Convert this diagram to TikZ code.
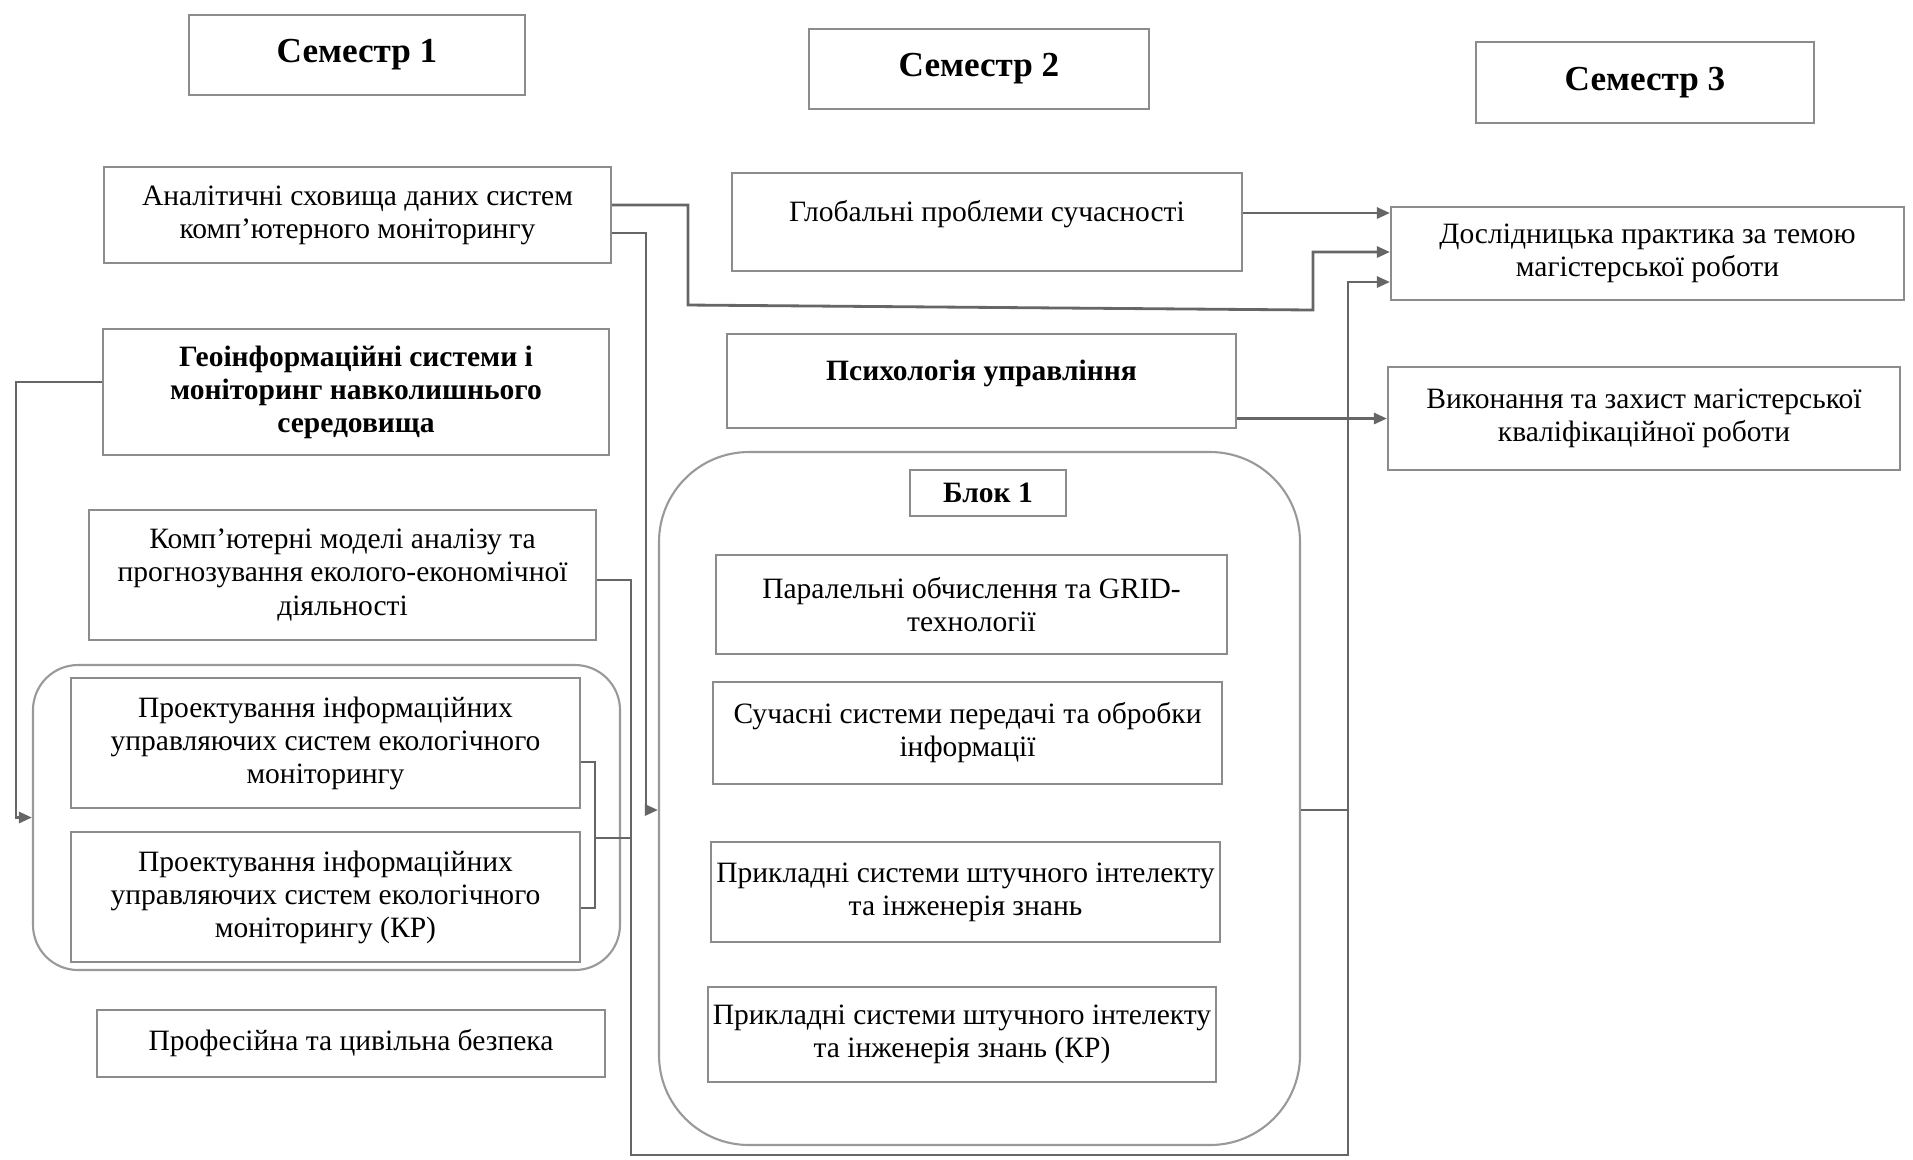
\documentclass[tikz,border=0pt]{standalone}
\usepackage{fontspec}
\setmainfont{Liberation Serif}
\usetikzlibrary{calc,arrows.meta}
\tikzset{
	box/.style={draw=black!45, line width=0.6pt, align=center, inner sep=0pt, font=\fontsize{8.4}{9.4}\selectfont},
	sem/.style={box, font=\fontsize{10}{11}\selectfont\bfseries},
	grp/.style={draw=black!40, line width=0.6pt, rounded corners=#1},
	link/.style={draw=black!60, line width=0.8pt},
	arr/.style={link, -{Triangle[length=1.3mm,width=1.1mm]}},
}

\begin{document}
\begin{tikzpicture}
			%%%%% START %%%%%
			\useasboundingbox (0,0) rectangle (19.13,-11.59);
			
			\node[sem, minimum width=3.36cm, minimum height=0.8cm] (sem1) at (3.57,-0.55) {Семестр 1};
			\node[sem, minimum width=3.4cm, minimum height=0.8cm] (sem2) at (9.79,-0.69) {Семестр 2};
			\node[sem, minimum width=3.38cm, minimum height=0.81cm] (sem3) at (16.45,-0.825) {Семестр 3};
			
			% semester 1
			\node[grp=0.45cm, minimum width=5.87cm, minimum height=3.05cm] (projgrp) at (3.265,-8.175) {};
			\node[box, minimum width=5.07cm, minimum height=0.96cm] (anal) at (3.575,-2.15) {Аналітичні сховища даних систем\\комп'ютерного моніторингу};
			\node[box, minimum width=5.06cm, minimum height=1.26cm, font=\fontsize{8.4}{9.4}\selectfont\bfseries] (geo) at (3.56,-3.92) {Геоінформаційні системи і\\моніторинг навколишнього\\середовища};
			\node[box, minimum width=5.07cm, minimum height=1.3cm] (komp) at (3.425,-5.75) {Комп'ютерні моделі аналізу та\\прогнозування еколого-економічної\\діяльності};
			\node[box, minimum width=5.09cm, minimum height=1.3cm] (proj) at (3.255,-7.43) {Проектування інформаційних\\управляючих систем екологічного\\моніторингу};
			\node[box, minimum width=5.09cm, minimum height=1.3cm] (projkr) at (3.255,-8.97) {Проектування інформаційних\\управляючих систем екологічного\\моніторингу (КР)};
			\node[box, minimum width=5.08cm, minimum height=0.67cm] (prof) at (3.51,-10.435) {Професійна та цивільна безпека};
			
			% semester 2
			\node[box, minimum width=5.1cm, text height=0.48cm, text depth=0.5cm] (glob) at (9.87,-2.22) {Глобальні проблеми сучасності};
			\node[box, minimum width=5.09cm, text height=0.46cm, text depth=0.48cm, font=\fontsize{8.4}{9.4}\selectfont\bfseries] (psych) at (9.815,-3.81) {Психологія управління};
			\node[grp=0.9cm, minimum width=6.41cm, minimum height=6.93cm] (blok) at (9.795,-7.985) {};
			\node[box, minimum width=1.56cm, minimum height=0.46cm, font=\fontsize{8.4}{9.4}\selectfont\bfseries] (blokname) at (9.88,-4.93) {Блок 1};
			\node[box, minimum width=5.11cm, minimum height=0.99cm] (par) at (9.715,-6.045) {Паралельні обчислення та GRID-\\технології};
			\node[box, minimum width=5.09cm, minimum height=1.02cm] (such) at (9.675,-7.33) {Сучасні системи передачі та обробки\\інформації};
			\node[box, minimum width=5.09cm, minimum height=1.0cm] (prik) at (9.655,-8.92) {Прикладні системи штучного інтелекту\\та інженерія знань};
			\node[box, minimum width=5.08cm, minimum height=0.95cm] (prikkr) at (9.62,-10.345) {Прикладні системи штучного інтелекту\\та інженерія знань (КР)};
			
			% semester 3
			\node[box, minimum width=5.13cm, minimum height=0.93cm] (dosl) at (16.475,-2.535) {Дослідницька практика за темою\\магістерської роботи};
			\node[box, minimum width=5.12cm, minimum height=1.03cm] (vyk) at (16.44,-4.185) {Виконання та захист магістерської\\кваліфікаційної роботи};
			
			\coordinate (rail) at (13.48,-11.55);
			
			% links
			\draw[arr] ([yshift=0.9mm]glob.east) -- ([yshift=0.9mm]glob.east -| dosl.west);
			\draw[arr] ([yshift=1mm]anal.east) -- ++(0.76,0) -- ++(0,-1.0) -- ++(6.25,-0.05) |- ([yshift=0.15mm]dosl.west);
			\draw[arr] ([yshift=-1.8mm]anal.east) -- ++(0.34,0) |- ([yshift=-1.15mm]blok.west);
			\draw[arr] ([yshift=-0.5mm]komp.east) -- ++(0.34,0) |- (rail) |- ([yshift=-2.85mm]dosl.west);
			\draw[link] ([yshift=-1.15mm]blok.east) -- ([yshift=-1.15mm]blok.east -| rail);
			\draw[arr] (psych.east |- vyk.west) -- (vyk.west);
			\draw[arr] ([yshift=1mm]geo.west) -- ++(-0.86,0) |- (projgrp.west);
			\draw[link] ([yshift=-1.9mm]proj.east) -- ++(0.14,0) |- ([yshift=-1.1mm]projkr.east);
			\draw[link] ([xshift=1.4mm,yshift=-9.5mm]proj.east) -- ++(0.36,0);
			
			%%%%% END %%%%%
\end{tikzpicture}
\end{document}
